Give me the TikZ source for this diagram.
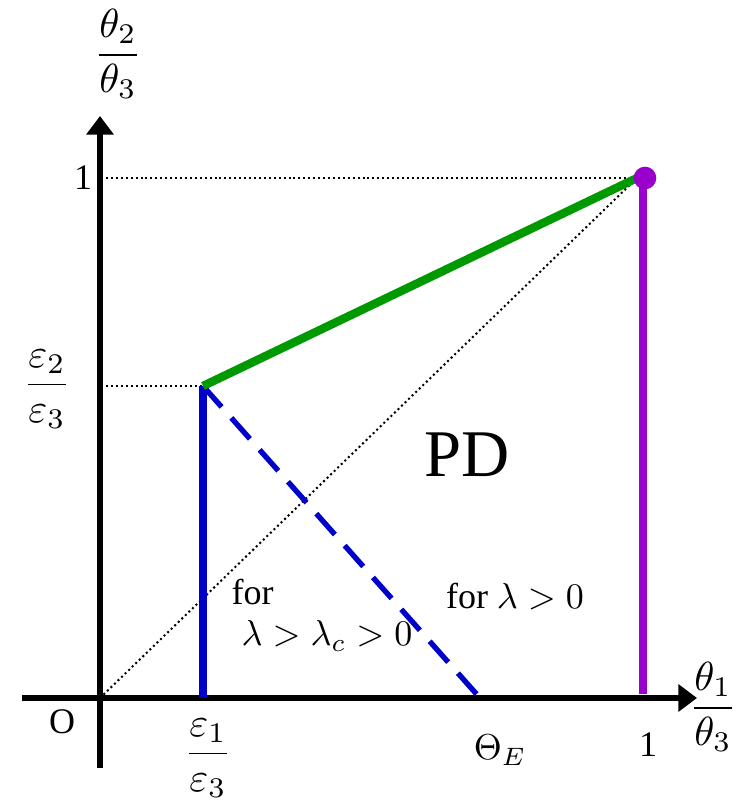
\documentclass[tikz,border=0pt]{standalone}
\usepackage{fontspec}
\setmainfont{Liberation Serif}
\usepackage{xcolor}
\usepackage{tikz}
\usetikzlibrary{arrows.meta, positioning, calc}
\definecolor{pgreen}{HTML}{009A00}
\definecolor{pblue}{HTML}{0000CC}
\definecolor{ppurple}{HTML}{9900CC}

\begin{document}
\begin{tikzpicture}[x=0.75pt, y=-0.75pt,
  axisline/.style={line width=4.5pt, -{Triangle[length=14pt,width=20pt]}},
  guide/.style={line width=1.5pt, dash pattern=on 1.5pt off 2.2pt},
  lbl/.style={scale=2.7, inner sep=0pt},
  fraclbl/.style={scale=3.05, inner sep=0pt}]
\useasboundingbox (0,0) rectangle (744,807);
% anchor points
\coordinate (xstart) at (22,698);
\coordinate (xend) at (697,698);
\coordinate (ystart) at (100,768);
\coordinate (yend) at (100,116);
\coordinate (orig) at (100,698);
\coordinate (corner) at (637,178);
\coordinate (kink) at (203,386);
\coordinate (kinkfoot) at (203,698);
\coordinate (thetaE) at (480,698);
\coordinate (vtop) at (643,178);
\coordinate (vfoot) at (643,694);
\coordinate (ytickone) at (106,178);
\coordinate (ytickeps) at (106,386);
% axes
\draw[axisline] (xstart) -- (xend);
\draw[axisline] (ystart) -- (yend);
% guides
\draw[guide] (ytickone) -- (corner);
\draw[guide] (ytickeps) -- (kink);
\draw[guide] (orig) -- (corner);
% boundaries
\draw[pblue, line width=6pt] (kinkfoot) -- (kink);
\draw[pblue, line width=4pt, dash pattern=on 21pt off 11pt] (kink) -- (thetaE);
\draw[ppurple, line width=5.5pt] (vfoot) -- (vtop);
\draw[pgreen, line width=6.3pt] (kink) -- (corner);
\fill[ppurple] (645,178) circle (8.5pt);
% labels
\node[lbl] (olbl) at (62,722) {O};
\node[lbl] (yonelbl) at (83,178) {1};
\node[lbl] (xonelbl) at (648,745) {1};
\node[lbl] (thetaElbl) at (500,750) {$\Theta_E$};
\node[fraclbl] (ylbl) at (118,54) {$\displaystyle\frac{\theta_2}{\theta_3}$};
\node[fraclbl] (xlbl) at (713,707) {$\displaystyle\frac{\theta_1}{\theta_3}$};
\node[fraclbl] (epstwolbl) at (47,389) {$\displaystyle\frac{\varepsilon_2}{\varepsilon_3}$};
\node[fraclbl] (epsonelbl) at (208,758) {$\displaystyle\frac{\varepsilon_1}{\varepsilon_3}$};
\node[scale=5, inner sep=0pt] (pdlbl) at (467,455) {PD};
\node[lbl] (forall) at (515,597) {for $\lambda>0$};
\node[lbl, anchor=west] (forc) at (231,592) {for};
\node[lbl] (lamc) at (327,636) {$\lambda>\lambda_c>0$};
\end{tikzpicture}
\end{document}
